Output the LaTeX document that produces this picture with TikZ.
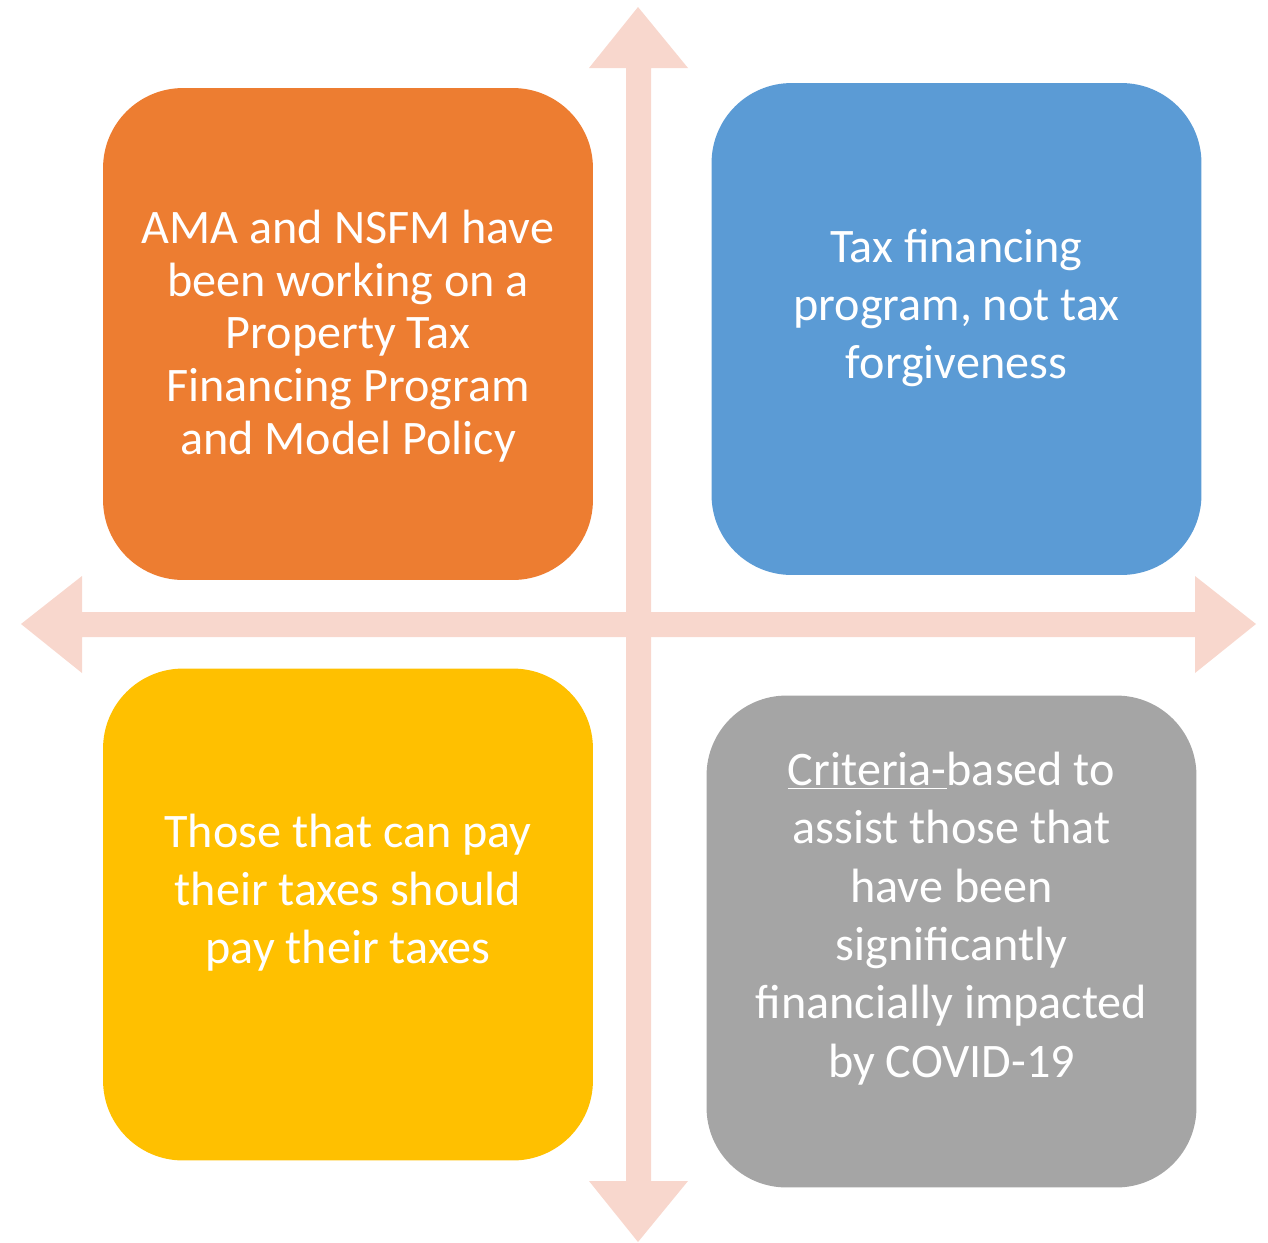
\documentclass[tikz,border=0pt]{standalone}
\usepackage{fontspec}
\setmainfont{Carlito}
\usepackage{tikz}
\usetikzlibrary{positioning}
\definecolor{naranja}{HTML}{ED7D31}
\definecolor{azul}{HTML}{5B9BD5}
\definecolor{amarillo}{HTML}{FFC000}
\definecolor{gris}{HTML}{A5A5A5}
\definecolor{rosa}{HTML}{F8D7CD}

\begin{document}
\begin{tikzpicture}[x=0.02cm,y=-0.02cm,
      caja/.style={rounded corners=1.6cm,draw=none,minimum width=9.8cm,minimum height=9.84cm,inner sep=0pt},
      texto/.style={text=white,align=center,inner sep=0pt,font=\fontsize{27.4pt}{33.2pt}\selectfont},
      flecha/.style={fill=rosa,draw=none}]
    \useasboundingbox (0,0) rectangle (1268,1242);
    % the two crossing arrows
    \fill[flecha] (638,7) -- (688,68) -- (651,68) -- (651,1181) -- (688,1181) -- (638,1242)
      -- (589,1181) -- (626,1181) -- (626,68) -- (589,68) -- cycle;
    \fill[flecha] (21,624) -- (82,576) -- (82,612) -- (1195,612) -- (1195,576) -- (1256,624)
      -- (1195,673) -- (1195,637) -- (82,637) -- (82,673) -- cycle;
    % the four boxes
    \node[caja,fill=naranja] (o) at (348,334) {};
    \node[caja,fill=azul] (b) at (956.5,329) {};
    \node[caja,fill=amarillo] (y) at (348,914.5) {};
    \node[caja,fill=gris] (g) at (951.5,941.5) {};
    % texts
    \node[texto,font=\fontsize{27.4pt}{30pt}\selectfont] (to) at ([yshift=-0.04cm]o.center) {AMA and NSFM have\\been working on a\\Property Tax\\Financing Program\\and Model Policy};
    \node[texto] (tb) at ([yshift=0.42cm]b.center) {Tax financing\\program, not tax\\forgiveness};
    \node[texto] (ty) at ([yshift=0.44cm]y.center) {Those that can pay\\their taxes should\\pay their taxes};
    \node[texto] (tg) at ([yshift=0.46cm]g.center) {\underline{Criteria-}based to\\assist those that\\have been\\significantly\\financially impacted\\by COVID-19};
  \end{tikzpicture}
\end{document}
